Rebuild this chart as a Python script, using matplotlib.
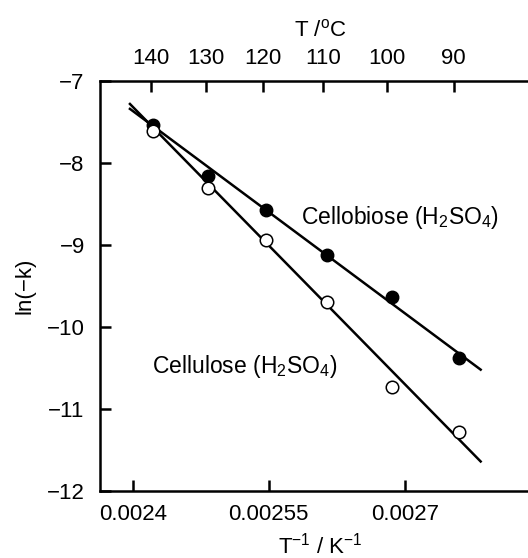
import numpy as np
import matplotlib
matplotlib.use("Agg")
import matplotlib.pyplot as plt

plt.rcParams['font.family'] = ['Liberation Sans', 'DejaVu Sans']
plt.rcParams['mathtext.fontset'] = 'custom'
plt.rcParams['mathtext.rm'] = 'Liberation Sans'
plt.rcParams['mathtext.it'] = 'Liberation Sans'

# data
inv_T = [0.0024224, 0.0024830, 0.0025467, 0.0026143, 0.0026853, 0.0027599]
cellobiose = [-7.54, -8.16, -8.57, -9.12, -9.63, -10.38]
cellulose = [-7.61, -8.30, -8.94, -9.70, -10.73, -11.28]

# fitted lines (end points)
fit_x = [0.002397, 0.0027835]
cellobiose_fit = [-7.34, -10.52]
cellulose_fit = [-7.28, -11.64]

# top axis (temperature in degC)
T_top = [140, 130, 120, 110, 100, 90]
x_ticks = [0.0024, 0.00255, 0.0027]
y_ticks = [-7, -8, -9, -10, -11, -12]

fig = plt.figure(figsize=(5.28, 5.58), dpi=100)
ax = fig.add_axes([100 / 528, 1 - 491 / 558, 441 / 528, 410 / 558])

ax.plot(fit_x, cellobiose_fit, color='black', lw=1.8)
ax.plot(fit_x, cellulose_fit, color='black', lw=1.8)
ax.plot(inv_T, cellobiose, 'o', color='black', ms=9)
ax.plot(inv_T, cellulose, 'o', mfc='white', mec='black', mew=1.1, ms=9)

ax.text(0.002586, -8.67, r'Cellobiose (H$_2$SO$_4$)', fontsize=16.5, va='center', ha='left')
ax.text(0.002421, -10.476, r'Cellulose (H$_2$SO$_4$)', fontsize=16.5, va='center', ha='left')

ax.set_xlim(0.002364, 0.00285)
ax.set_ylim(-12, -7)
ax.set_xticks(x_ticks)
ax.set_xticklabels(['0.0024', '0.00255', '0.0027'])
ax.set_yticks(y_ticks)
ax.tick_params(direction='in', length=8, width=1.8, labelsize=16, pad=9)
ax.tick_params(axis='y', pad=11)
for s in ['left', 'bottom', 'top']:
    ax.spines[s].set_linewidth(1.8)
ax.spines['right'].set_visible(False)
ax.set_ylabel('ln(−k)', fontsize=16, labelpad=8)
ax.set_xlabel(r'T$^{-1}$ / K$^{-1}$', fontsize=16, labelpad=6)

ax2 = ax.twiny()
ax2.set_xlim(ax.get_xlim())
ax2.set_xticks(1 / (np.array(T_top) + 273.15))
ax2.set_xticklabels([str(t) for t in T_top])
ax2.tick_params(direction='in', length=8, width=1.8, labelsize=16, pad=9)
for s in ax2.spines.values():
    s.set_visible(False)
ax2.set_xlabel(r'T /$^{\rm o}$C', fontsize=16, labelpad=8)

fig.savefig('out.png', dpi=100)
